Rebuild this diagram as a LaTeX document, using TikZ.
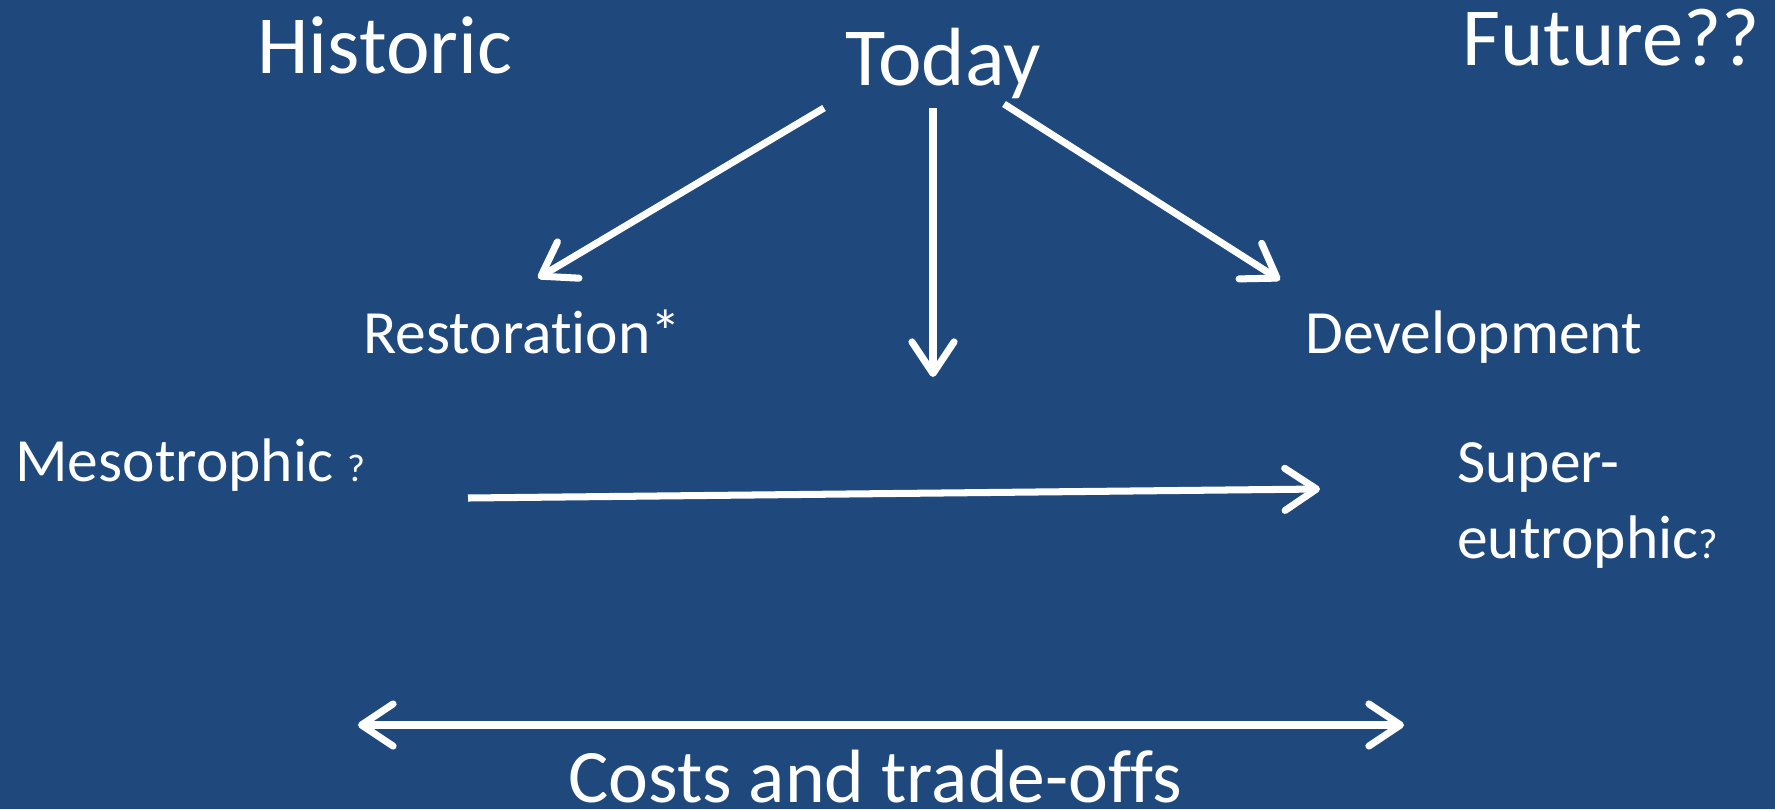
\documentclass[tikz,border=0pt]{standalone}
\usepackage{fontspec}
\setmainfont{Carlito}[Ligatures={NoCommon,NoContextual}]
\usepackage{xcolor}
\usepackage{tikz}
\usetikzlibrary{arrows.meta}

\definecolor{slideblue}{HTML}{1F497D}

\begin{document}
\begin{tikzpicture}[
    x=0.02cm, y=-0.02cm,
    period/.style={text=white, inner sep=0, anchor=base west, font=\fontsize{47}{56}\selectfont},
    state/.style={text=white, inner sep=0, anchor=base west, align=left, font=\fontsize{35}{43}\selectfont},
    arrow/.style={white, line width=4pt},
    >={Straight Barb[length=18pt, width=24pt, round]}
]
% Background
\fill[slideblue] (0,0) rectangle (1775,809);
\useasboundingbox (0,0) rectangle (1775,809);

% Time periods
\node[period] (historic) at (257,73) {Historic};
\node[period] (today) at (845,85) {Today};
\node[period] (future) at (1462,65) {Future??};

% Pathways
\node[state] (rest) at (363,353) {Restoration*};
\node[state] (dev) at (1305,353) {Development};

% Trophic states (two-line node sits on its last baseline)
\node[state] (meso) at (15,481) {Mesotrophic {\fontsize{22}{26}\selectfont ?}};
\node[state] (super) at (1457,558) {Super-\\eutrophic{\fontsize{24}{26}\selectfont ?}};

% Trade-offs
\node[period, font=\fontsize{43}{52}\selectfont] (costs) at (568,802) {Costs and trade-offs};

% Arrow ends
\coordinate (t1) at (824,108);
\coordinate (t2) at (933,108);
\coordinate (t3) at (1004,104);
\coordinate (r1) at (538,278);
\coordinate (c1) at (933,377);
\coordinate (d1) at (1280,280);
\coordinate (m1) at (468,498);
\coordinate (s1) at (1320,489);
\coordinate (k1) at (358,725);
\coordinate (k2) at (1404,725);

% Connections
\draw[arrow, ->] (t1) -- (r1);
\draw[arrow, ->] (t2) -- (c1);
\draw[arrow, ->] (t3) -- (d1);
\draw[arrow, ->] (m1) -- (s1);
\draw[arrow, <->] (k1) -- (k2);
\end{tikzpicture}
\end{document}
